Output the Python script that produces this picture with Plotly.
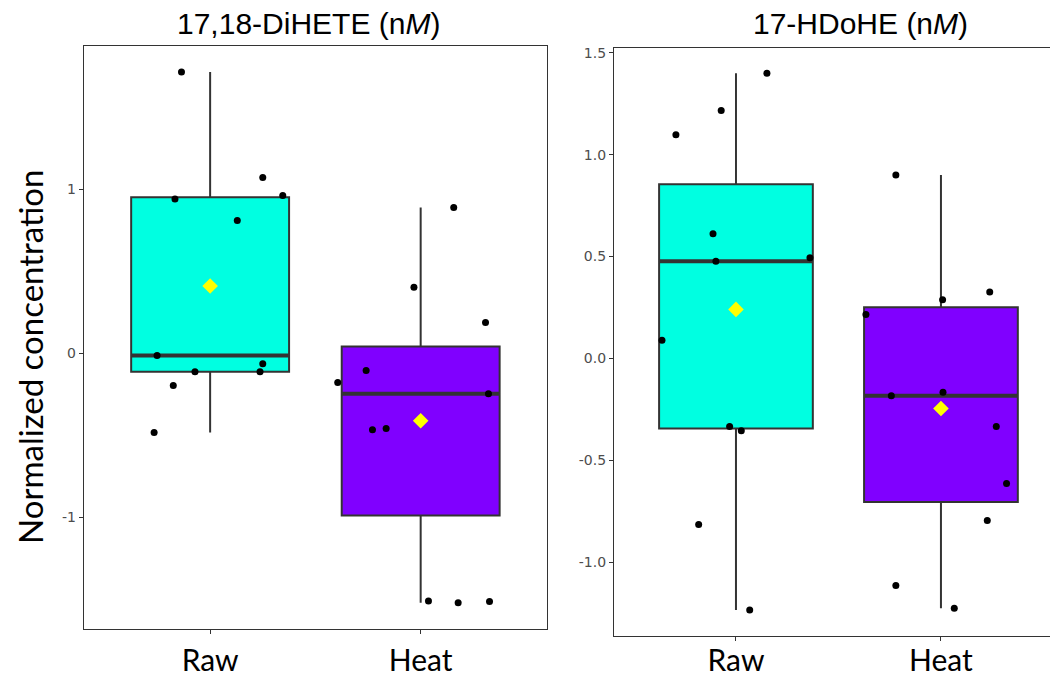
import numpy as np
import plotly.graph_objects as go

categories = ["Raw", "Heat"]
panel_titles = ["17,18-DiHETE (n<i>M</i>)", "17-HDoHE (n<i>M</i>)"]
y_title = "Normalized concentration"

# Panel 1: 17,18-DiHETE
dihete_raw = [1.717, 0.942, 1.073, 0.963, 0.811, -0.013, -0.063, -0.113, -0.113, -0.197, -0.483]
dihete_heat = [0.890, 0.404, 0.189, -0.105, -0.178, -0.247, -0.467, -0.459, -1.512, -1.523, -1.515]
# Panel 2: 17-HDoHE
hdohe_raw = [1.399, 1.216, 1.098, 0.612, 0.477, 0.494, 0.089, -0.333, -0.354, -0.814, -1.234]
hdohe_heat = [0.900, 0.326, 0.288, 0.216, -0.165, -0.183, -0.333, -0.613, -0.795, -1.113, -1.225]

# horizontal jitter (category units)
jit_dihete_raw = [-0.136, -0.167, 0.25, 0.345, 0.129, -0.252, 0.25, 0.237, -0.072, -0.175, -0.266]
jit_dihete_heat = [0.157, -0.032, 0.308, -0.259, -0.394, 0.322, -0.229, -0.164, 0.037, 0.178, 0.327]
jit_hdohe_raw = [0.151, -0.072, -0.293, -0.112, -0.098, 0.361, -0.361, -0.031, 0.026, -0.182, 0.067]
jit_hdohe_heat = [-0.22, 0.238, 0.008, -0.366, 0.01, -0.242, 0.27, 0.32, 0.226, -0.22, 0.065]

left_ticks = [-1, 0, 1]
left_ticktext = ["-1", "0", "1"]
right_ticks = [-1.0, -0.5, 0.0, 0.5, 1.0, 1.5]
right_ticktext = ["-1.0", "-0.5", "0.0", "0.5", "1.0", "1.5"]

fills = ["#00FFE1", "#8000FF"]
LINE = "#333333"
W = 1050
H = 674

fig = go.Figure()

panels = [
    ("x", "y", [dihete_raw, dihete_heat], [jit_dihete_raw, jit_dihete_heat]),
    ("x2", "y2", [hdohe_raw, hdohe_heat], [jit_hdohe_raw, jit_hdohe_heat]),
]
bw = 0.75
for xa, ya, groups, jits in panels:
    for i, (vals, jit) in enumerate(zip(groups, jits)):
        pos = i + 1
        fig.add_trace(go.Box(
            y=vals, x0=pos, width=bw, xaxis=xa, yaxis=ya,
            quartilemethod="inclusive", boxpoints=False, whiskerwidth=0,
            fillcolor=fills[i], line=dict(color=LINE, width=2),
            showlegend=False, hoverinfo="skip"))
        med = float(np.median(vals))
        fig.add_trace(go.Scatter(
            x=[pos - bw / 2, pos + bw / 2], y=[med, med], mode="lines",
            line=dict(color=LINE, width=4), xaxis=xa, yaxis=ya,
            showlegend=False, hoverinfo="skip"))
        fig.add_trace(go.Scatter(
            x=[pos + j for j in jit], y=vals, mode="markers",
            marker=dict(color="black", size=7), xaxis=xa, yaxis=ya,
            showlegend=False))
        fig.add_trace(go.Scatter(
            x=[pos], y=[float(np.mean(vals))], mode="markers",
            marker=dict(color="#FFFF00", size=12, symbol="diamond"),
            xaxis=xa, yaxis=ya, showlegend=False))

xcommon = dict(tickvals=[1, 2], ticktext=categories, showline=True, linecolor=LINE,
               linewidth=1.2, ticks="outside", ticklen=4, tickcolor=LINE, tickwidth=1.2,
               showgrid=False, zeroline=False, automargin=False,
               tickfont=dict(family="Lato", size=30, color="black"))
ycommon = dict(showline=True, linecolor=LINE, linewidth=1.2, ticks="outside", ticklen=4,
               tickcolor=LINE, tickwidth=1.2, showgrid=False, zeroline=False, automargin=False,
               tickfont=dict(family="DejaVu Sans", size=14, color="#4D4D4D"))

fig.update_layout(
    width=W, height=H, margin=dict(l=0, r=0, t=0, b=0, autoexpand=False),
    paper_bgcolor="white", plot_bgcolor="white", boxmode="overlay",
    xaxis=dict(domain=[83.8 / W, 547 / W], range=[0.4, 2.6], mirror=True, anchor="y",
               ticklabelstandoff=1, **xcommon),
    yaxis=dict(domain=[1 - 629 / H, 1 - 46.4 / H], range=[-1.683, 1.874], mirror=True,
               tickvals=left_ticks, ticktext=left_ticktext, anchor="x", **ycommon),
    xaxis2=dict(domain=[614 / W, 1.0], range=[0.405, 2.532], mirror=True, anchor="y2",
                ticklabelstandoff=-6, **xcommon),
    yaxis2=dict(domain=[1 - 636 / H, 1 - 48.4 / H], range=[-1.361, 1.521], mirror=False,
                tickvals=right_ticks, ticktext=right_ticktext, anchor="x2", **ycommon),
)

annots = [
    dict(text=panel_titles[0], x=308 / W, y=1 - 23 / H),
    dict(text=panel_titles[1], x=860 / W, y=1 - 23 / H),
]
for a in annots:
    fig.add_annotation(xref="paper", yref="paper", xanchor="center", yanchor="middle",
                       showarrow=False, font=dict(family="Liberation Sans", size=30, color="black"), **a)
fig.add_annotation(text=y_title, xref="paper", yref="paper", x=30 / W, y=1 - 357 / H,
                   xanchor="center", yanchor="middle", textangle=-90, showarrow=False,
                   font=dict(family="Lato", size=33, color="black"))

fig.write_html("out.html", config={"displayModeBar": False},
               post_script="document.body.style.margin='0px';document.body.style.overflow='hidden';")
